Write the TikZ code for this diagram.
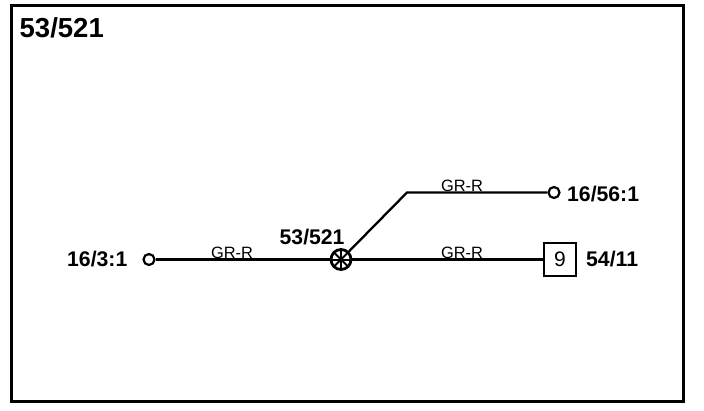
\documentclass[tikz,border=0pt]{standalone}
\usepackage{fontspec}
\setmainfont{Liberation Sans}
\usetikzlibrary{calc, positioning}
\tikzset{
	wire/.style={line width=2.8pt},
	thinwire/.style={line width=2.3pt},
	splice/.style={circle, draw, line width=2.8pt, fill=white, minimum size=20pt, inner sep=0pt},
	terminal/.style={circle, draw, line width=2.2pt, fill=white, minimum size=11pt, inner sep=0pt},
	connbox/.style={rectangle, draw, line width=1.6pt, fill=white, minimum width=32pt, minimum height=33pt, inner sep=0pt, font=\fontsize{21pt}{21pt}\selectfont},
	wirelabel/.style={font=\fontsize{16.4pt}{16pt}\selectfont, inner sep=0pt, anchor=base},
	pinlabel/.style={font=\fontsize{21.2pt}{21pt}\selectfont\bfseries, inner sep=0pt, anchor=base west},
}
\begin{document}
\begin{tikzpicture}[x=1pt, y=-1pt]
	\useasboundingbox (0,0) rectangle (704,410);
	\draw[line width=3pt] (11,5.5) rectangle (683.5,401.5);
	\node[font=\fontsize{27.5pt}{27pt}\selectfont\bfseries, inner sep=0pt, anchor=base west] (title) at (19.5,37) {53/521};
	% connectors
	\node[terminal] (left) at (149,259.5) {};
	\node[splice] (hub) at (341,259.5) {};
	\node[terminal] (upper) at (554,192.5) {};
	\node[connbox] (box) at (560,259.5) {9};
	\coordinate (bend) at (407,192.5);
	\draw[wire] (left) -- (hub);
	\draw[wire] (hub) -- (box);
	\draw[thinwire] (hub) -- (bend) -- (upper);
	\foreach \ang in {0,45,...,135} {
		\draw[line width=2pt] ($(hub)+(\ang:9pt)$) -- ($(hub)+(\ang+180:9pt)$);
	}
	% labels
	\node[wirelabel] (wa) at (232,258) {GR-R};
	\node[wirelabel] (wb) at (462,258) {GR-R};
	\node[wirelabel] (wc) at (462,191) {GR-R};
	\node[pinlabel] (la) at (67,266.5) {16/3:1};
	\node[pinlabel] (lb) at (279.5,244) {53/521};
	\node[pinlabel] (lc) at (567,201) {16/56:1};
	\node[pinlabel] (ld) at (586,266.5) {54/11};
\end{tikzpicture}
\end{document}
